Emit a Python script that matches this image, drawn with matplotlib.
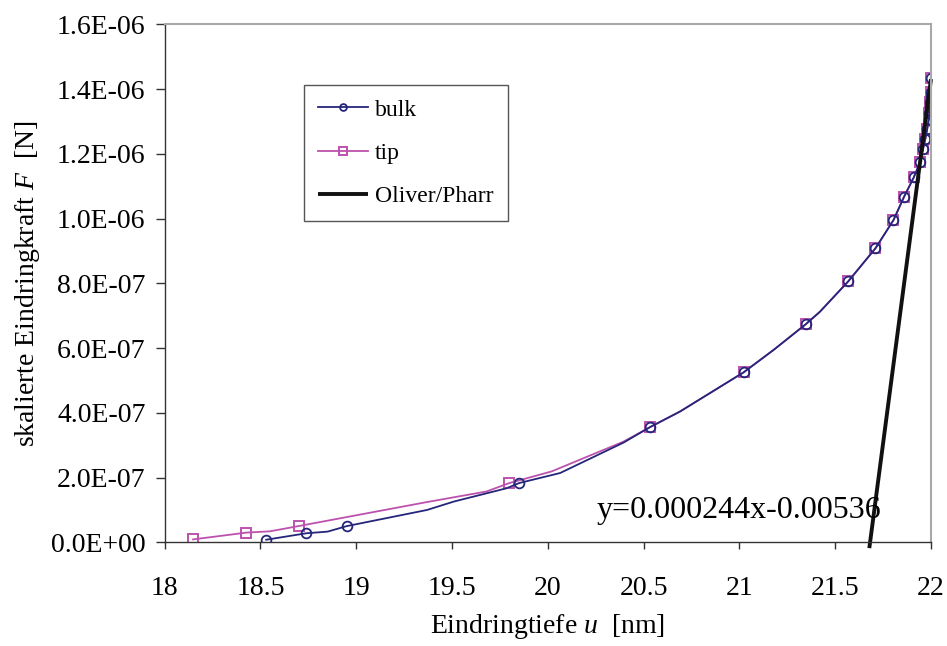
import matplotlib.pyplot as plt
from matplotlib.ticker import FuncFormatter, MultipleLocator

plt.rcParams['font.family'] = ['Liberation Serif', 'DejaVu Serif']
plt.rcParams['mathtext.fontset'] = 'custom'
plt.rcParams['mathtext.rm'] = 'Liberation Serif'
plt.rcParams['mathtext.it'] = 'Liberation Serif:italic'

# Daten (Kraft in 1E-07 N)
tip_u = [18.148, 18.427, 18.55, 18.702, 19.366, 19.68, 19.799, 20.02, 20.395,
         20.534, 20.69, 21.022, 21.18, 21.345, 21.42, 21.568, 21.71, 21.804,
         21.86, 21.91, 21.944, 21.958, 21.97, 21.98, 21.988, 21.992, 21.995,
         21.997, 21.998, 21.999, 22.0]
tip_F = [0.09, 0.30, 0.34, 0.505, 1.24, 1.57, 1.83, 2.19, 3.11,
         3.56, 4.04, 5.25, 5.95, 6.73, 7.12, 8.06, 9.08, 9.95,
         10.68, 11.27, 11.75, 12.14, 12.45, 12.76, 13.05, 13.25, 13.45,
         13.6, 13.75, 13.92, 14.33]
tip_marks = [0, 1, 3, 6, 9, 11, 13] + list(range(15, 31))

bulk_u = [18.53, 18.74, 18.85, 18.95, 19.37, 19.51, 19.785, 19.85, 20.064,
          20.395, 20.534, 20.69, 21.022, 21.18, 21.345, 21.42, 21.568, 21.71,
          21.804, 21.86, 21.91, 21.944, 21.958, 21.97, 21.98, 21.988, 21.992,
          21.995, 21.997, 21.998, 21.999, 22.0]
bulk_F = [0.08, 0.28, 0.33, 0.50, 1.00, 1.26, 1.67, 1.83, 2.14,
          3.08, 3.56, 4.04, 5.25, 5.95, 6.73, 7.12, 8.06, 9.08,
          9.95, 10.68, 11.27, 11.75, 12.14, 12.45, 12.76, 13.05, 13.25,
          13.45, 13.6, 13.75, 13.92, 14.33]
bulk_marks = [0, 1, 3, 7, 10, 12, 14] + list(range(16, 32))

op_u = [21.678, 22.0]
op_F = [-0.18, 14.31]

scale = 1e-7

fig = plt.figure(figsize=(9.47, 6.46), dpi=100)
ax = fig.add_axes([0.1739, 0.1605, 0.8092, 0.8019])

navy = '#25257a'
pink = '#bd52ae'

ax.plot(tip_u, [v * scale for v in tip_F], color=pink, lw=1.3, marker='s',
        ms=7.5, mfc='none', mec=pink, mew=1.4, markevery=tip_marks, label='tip')
ax.plot(bulk_u, [v * scale for v in bulk_F], color=navy, lw=1.3, marker='o',
        ms=7, mfc='none', mec=navy, mew=1.3, markevery=bulk_marks, label='bulk')
ax.plot(op_u, [v * scale for v in op_F], color='#111111', lw=2.8,
        solid_capstyle='butt', clip_on=False, label='Oliver/Pharr')

ax.text(20.252, 0.752e-7, 'y=0.000244x-0.00536', fontsize=23, va='baseline', ha='left')

ax.set_xlim(18, 22)
ax.set_ylim(0, 1.6e-6)
ax.xaxis.set_major_locator(MultipleLocator(0.5))
ax.yaxis.set_major_locator(MultipleLocator(2e-7))
ax.xaxis.set_major_formatter(FuncFormatter(lambda v, p: f'{v:g}'))
ax.yaxis.set_major_formatter(FuncFormatter(lambda v, p: f'{v:.1E}'))

ax.tick_params(axis='both', direction='out', labelsize=20, width=1, color='#333333')
ax.tick_params(axis='y', length=6.3, pad=7.5)
ax.tick_params(axis='x', length=5.2, pad=19)

for s in ['left', 'bottom']:
    ax.spines[s].set_color('#333333')
    ax.spines[s].set_linewidth(1.0)
for s in ['top', 'right']:
    ax.spines[s].set_color('#a8a8a8')
    ax.spines[s].set_linewidth(1.5)

ax.set_xlabel(r'Eindringtiefe $u$  [nm]', fontsize=20)
ax.set_ylabel(r'skalierte Eindringkraft $F$  [N]', fontsize=20)
ax.xaxis.set_label_coords(0.5, -0.1346)
ax.yaxis.set_label_coords(-0.160, 0.5)

h, l = ax.get_legend_handles_labels()
order = [1, 0, 2]
leg = ax.legend([h[i] for i in order], [l[i] for i in order], loc='upper left',
                bbox_to_anchor=(0.182, 0.883), fontsize=17, frameon=True,
                fancybox=False, edgecolor='#555555', framealpha=1,
                handlelength=2.1, handletextpad=0.3, labelspacing=0.92,
                borderpad=0.6, borderaxespad=0, markerscale=0.7)
leg.get_frame().set_linewidth(1.0)

fig.savefig('out.png', dpi=100)
